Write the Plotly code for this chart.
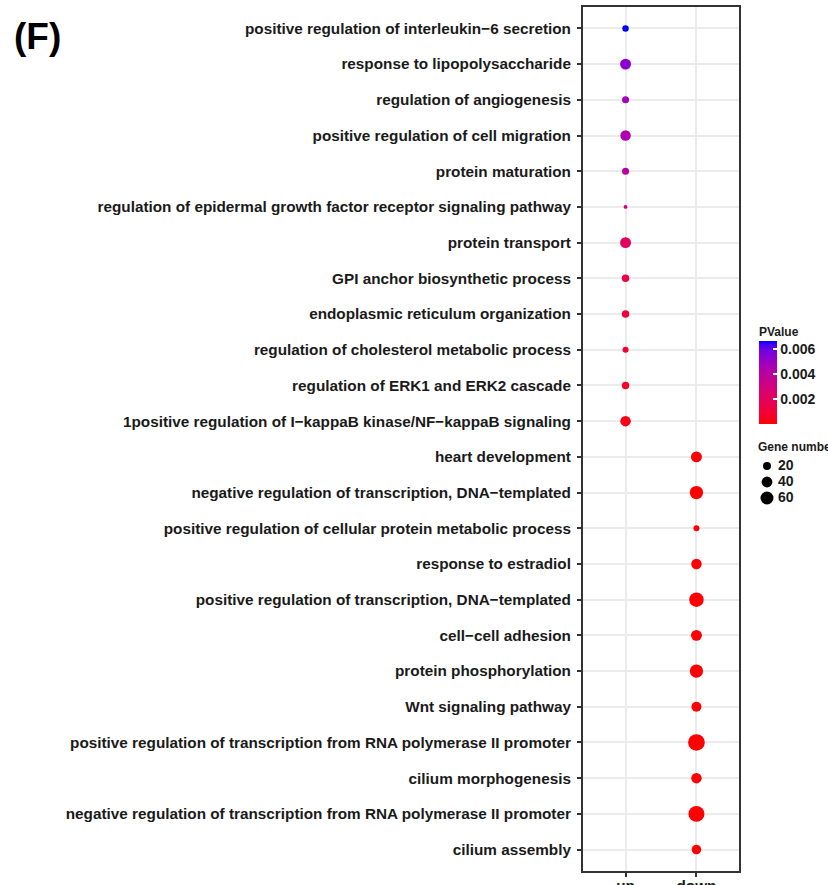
import math
import plotly.graph_objects as go

terms = [
    "positive regulation of interleukin\u22126 secretion",
    "response to lipopolysaccharide",
    "regulation of angiogenesis",
    "positive regulation of cell migration",
    "protein maturation",
    "regulation of epidermal growth factor receptor signaling pathway",
    "protein transport",
    "GPI anchor biosynthetic process",
    "endoplasmic reticulum organization",
    "regulation of cholesterol metabolic process",
    "regulation of ERK1 and ERK2 cascade",
    "1positive regulation of I\u2212kappaB kinase/NF\u2212kappaB signaling",
    "heart development",
    "negative regulation of transcription, DNA\u2212templated",
    "positive regulation of cellular protein metabolic process",
    "response to estradiol",
    "positive regulation of transcription, DNA\u2212templated",
    "cell\u2212cell adhesion",
    "protein phosphorylation",
    "Wnt signaling pathway",
    "positive regulation of transcription from RNA polymerase II promoter",
    "cilium morphogenesis",
    "negative regulation of transcription from RNA polymerase II promoter",
    "cilium assembly",
]
regulation = ["up"] * 12 + ["down"] * 12
pvalue = [0.00665, 0.0054, 0.0048, 0.0044, 0.0041, 0.0032, 0.0021, 0.0014,
          0.0011, 0.0008, 0.0006, 0.0003,
          0.00002, 0.00001, 0.00005, 0.00003, 0.00001, 0.00004, 0.00002,
          0.00003, 0.000005, 0.00002, 0.000001, 0.00003]
gene_number = [12, 41, 15, 37, 15, 3, 41, 17, 17, 10, 17, 37,
               41, 63, 10, 37, 76, 41, 63, 33, 103, 37, 94, 30]
x_categories = ["up", "down"]
size_breaks = [20, 40, 60]
pvalue_ticks = [0.002, 0.004, 0.006]

FONT = "Liberation Sans, Arial, sans-serif"


def size_px(n):
    return 1.17 + 1.527 * math.sqrt(n)


# ---- Lab interpolation red -> blue (like ggplot2 scale_colour_gradient)
def _lin(c):
    c = c / 255.0
    return c / 12.92 if c <= 0.04045 else ((c + 0.055) / 1.055) ** 2.4


def _gam(c):
    c = 12.92 * c if c <= 0.0031308 else 1.055 * c ** (1 / 2.4) - 0.055
    return max(0, min(255, round(c * 255)))


WN = (0.95047, 1.0, 1.08883)


def rgb2lab(rgb):
    r, g, b = (_lin(v) for v in rgb)
    X = 0.4124 * r + 0.3576 * g + 0.1805 * b
    Y = 0.2126 * r + 0.7152 * g + 0.0722 * b
    Z = 0.0193 * r + 0.1192 * g + 0.9505 * b

    def f(t):
        return t ** (1 / 3) if t > 0.008856 else 7.787 * t + 16 / 116
    fx, fy, fz = f(X / WN[0]), f(Y / WN[1]), f(Z / WN[2])
    return (116 * fy - 16, 500 * (fx - fy), 200 * (fy - fz))


def lab2rgb(lab):
    L, a, b = lab
    fy = (L + 16) / 116
    fx = fy + a / 500
    fz = fy - b / 200

    def fi(t):
        return t ** 3 if t ** 3 > 0.008856 else (t - 16 / 116) / 7.787
    X, Y, Z = fi(fx) * WN[0], fi(fy) * WN[1], fi(fz) * WN[2]
    r = 3.2406 * X - 1.5372 * Y - 0.4986 * Z
    g = -0.9689 * X + 1.8758 * Y + 0.0415 * Z
    bb = 0.0557 * X - 0.2040 * Y + 1.0570 * Z
    return tuple(_gam(max(0, v)) for v in (r, g, bb))


lo, hi = rgb2lab((255, 0, 0)), rgb2lab((0, 0, 255))
colorscale = []
N = 20
for i in range(N + 1):
    t = i / N
    lab = tuple(lo[k] + (hi[k] - lo[k]) * t for k in range(3))
    r, g, b = lab2rgb(lab)
    colorscale.append([t, f"rgb({r},{g},{b})"])

W, H = 828, 885
ML, MR, MT, MB = 583, 0, 7, 14
PW = W - ML - MR
PH = H - MT - MB


def px_x(x):
    return (x - ML) / PW


def px_y(y):
    return (H - MB - y) / PH


fig = go.Figure()
fig.add_trace(go.Scatter(
    x=regulation, y=terms, mode="markers",
    marker=dict(
        size=[size_px(n) for n in gene_number],
        color=pvalue, colorscale=colorscale,
        cmin=min(pvalue), cmax=max(pvalue),
        line=dict(width=0), opacity=1,
        colorbar=dict(
            x=px_x(759), xanchor="left", xpad=0,
            y=px_y(341), yanchor="top", ypad=0,
            lenmode="pixels", len=83, thickness=18,
            outlinewidth=0,
            tickvals=pvalue_ticks, ticktext=[f"{v:.3f}" for v in pvalue_ticks],
            ticks="inside", tickcolor="white", ticklen=4, tickwidth=1.5,
            tickfont=dict(family=FONT, size=14, color="#1a1a1a", weight="bold"),
        ),
    ),
    showlegend=False, hoverinfo="x+y",
))

# size legend drawn on an auxiliary axis pair
fig.add_trace(go.Scatter(
    x=[10] * len(size_breaks), y=[str(s) for s in size_breaks],
    mode="markers",
    marker=dict(size=[size_px(s) for s in size_breaks], color="#000000",
                opacity=1, line=dict(width=0)),
    xaxis="x2", yaxis="y2", showlegend=False, hoverinfo="skip",
))
fig.add_trace(go.Scatter(
    x=[21] * len(size_breaks), y=[str(s) for s in size_breaks],
    mode="text", text=[str(s) for s in size_breaks], textposition="middle right",
    textfont=dict(family=FONT, size=14, color="#1a1a1a", weight="bold"),
    xaxis="x2", yaxis="y2", showlegend=False, hoverinfo="skip",
))

axis_common = dict(
    showgrid=True, gridcolor="#EBEBEB", gridwidth=2,
    showline=True, linecolor="#333333", linewidth=2, mirror=True,
    ticks="outside", ticklen=4, tickwidth=1.5, tickcolor="#333333",
    tickfont=dict(family=FONT, size=15.3, color="#1a1a1a", weight="bold"),
    zeroline=False, automargin=False,
)

fig.update_layout(
    width=W, height=H,
    margin=dict(l=ML, r=MR, t=MT, b=MB, pad=0),
    paper_bgcolor="white", plot_bgcolor="white",
    xaxis=dict(type="category", categoryorder="array", categoryarray=x_categories,
               range=[-0.6, 1.6], domain=[0, 156 / PW], ticklabelstandoff=-4,
               **axis_common),
    yaxis=dict(type="category", categoryorder="array", categoryarray=terms,
               range=[len(terms) - 0.4, -0.6], ticklabelstandoff=3, **axis_common),
    xaxis2=dict(domain=[px_x(757), 1], range=[0, 71], visible=False, anchor="y2",
                automargin=False),
    yaxis2=dict(domain=[px_y(506), px_y(458)], type="category",
                categoryorder="array", categoryarray=[str(s) for s in size_breaks],
                range=[2.5, -0.5], visible=False, anchor="x2", automargin=False),
    annotations=[
        dict(text="(F)", x=px_x(12), y=px_y(14), xref="paper", yref="paper",
             xanchor="left", yanchor="top", showarrow=False,
             font=dict(family=FONT, size=37, color="black", weight="bold")),
        dict(text="PValue", x=px_x(757), y=px_y(332), xref="paper", yref="paper",
             xanchor="left", yanchor="middle", showarrow=False,
             font=dict(family=FONT, size=12, color="#1a1a1a", weight="bold")),
        dict(text="Gene number", x=px_x(756), y=px_y(447), xref="paper", yref="paper",
             xanchor="left", yanchor="middle", showarrow=False,
             font=dict(family=FONT, size=12, color="#1a1a1a", weight="bold")),
    ],
)

fig.write_html("out.html")
